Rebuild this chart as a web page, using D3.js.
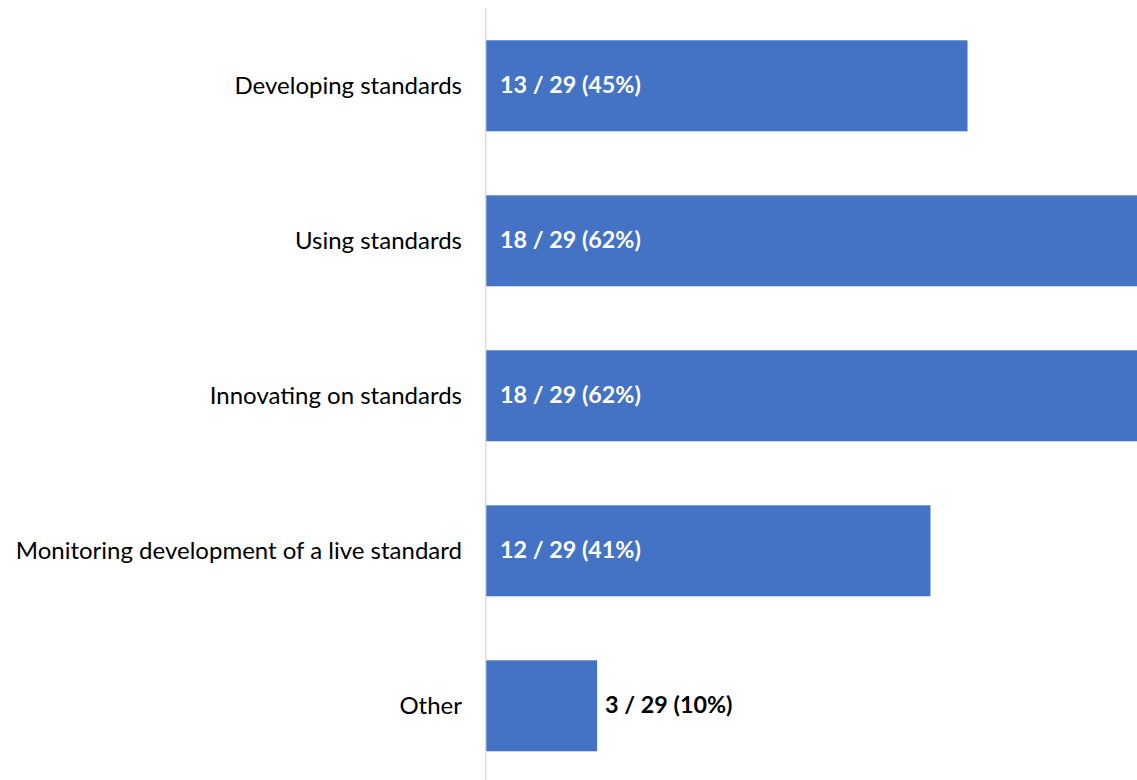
<!DOCTYPE html>
<html><head><meta charset="utf-8">
<script src="https://cdn.jsdelivr.net/npm/d3@7"></script>
<style>body{margin:0;background:#fff}svg{display:block}</style>
</head><body>
<svg id="c" width="1137" height="780"></svg>
<script>
const categories = ["Developing standards","Using standards","Innovating on standards","Monitoring development of a live standard","Other"];
const counts = [13,18,18,12,3];
const total = 29;
const percents = [45,62,62,41,10];

const svg = d3.select("#c");
const x = d3.scaleLinear().domain([0,18]).range([486, 486+18*37.04]);
const y = d3.scaleBand().domain(categories).range([8.3, 783.3]).paddingInner(0.413).paddingOuter(0.2065);

svg.selectAll("rect.bar").data(categories).join("rect")
  .attr("class","bar")
  .attr("x", x(0))
  .attr("y", d=>y(d))
  .attr("width", (d,i)=>x(counts[i])-x(0))
  .attr("height", y.bandwidth())
  .attr("fill","#4472C4");

svg.append("line").attr("x1",485.7).attr("x2",485.7).attr("y1",8).attr("y2",780)
  .attr("stroke","#d9d9d9").attr("stroke-width",1.3);

const font = "Lato, 'Noto Sans', sans-serif";
svg.selectAll("text.cat").data(categories).join("text")
  .attr("class","cat")
  .attr("x", 462)
  .attr("y", d=>y(d)+y.bandwidth()/2)
  .attr("dy","0.33em")
  .attr("text-anchor","end")
  .attr("font-family",font)
  .attr("font-size",24)
  .attr("fill","#000")
  .text(d=>d);

svg.selectAll("text.val").data(categories).join("text")
  .attr("class","val")
  .attr("x", (d,i)=> (x(counts[i])-x(0) > 160) ? x(0)+14 : x(counts[i])+8)
  .attr("y", d=>y(d)+y.bandwidth()/2)
  .attr("dy","0.33em")
  .attr("font-family",font)
  .attr("font-weight","bold")
  .attr("font-size",23.3)
  .attr("fill",(d,i)=> (x(counts[i])-x(0) > 160) ? "#fff" : "#000")
  .text((d,i)=>`${counts[i]} / ${total} (${percents[i]}%)`);
</script>
</body></html>
